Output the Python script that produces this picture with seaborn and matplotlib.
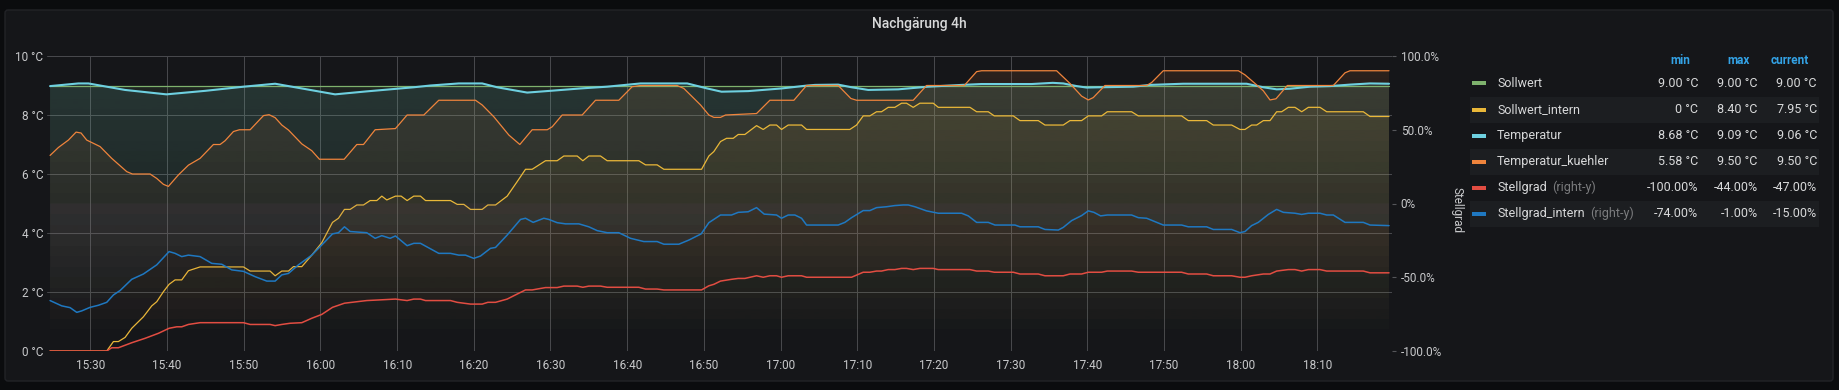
import numpy as np
import pandas as pd
import matplotlib
matplotlib.use("Agg")
import matplotlib.pyplot as plt
import matplotlib.dates as mdates
from matplotlib.colors import to_rgb
from matplotlib.patches import FancyBboxPatch, Rectangle
from matplotlib.transforms import IdentityTransform
import seaborn as sns

# (minutes after 15:00, value)
sollwert = [(24.74, 9.0), (199.35, 9.0)]

sollwert_intern = [
    (24.74, 0.0), (32.13, 0.0), (33.00, 0.32), (33.65, 0.32), (34.52, 0.46), (35.39, 0.77),
    (36.91, 1.16), (38.00, 1.53), (38.65, 1.67), (39.52, 2.01), (40.26, 2.26), (41.04, 2.41),
    (41.91, 2.41), (42.78, 2.72), (44.30, 2.85), (49.96, 2.85), (50.83, 2.71), (53.43, 2.71),
    (54.09, 2.55), (54.96, 2.71), (55.83, 2.71), (56.48, 2.86), (57.57, 2.86), (58.87, 3.25),
    (60.17, 3.67), (61.57, 4.36), (62.35, 4.50), (63.13, 4.80), (63.87, 4.80), (64.74, 4.95),
    (65.61, 4.95), (66.48, 5.10), (67.35, 5.10), (68.00, 5.25), (68.65, 5.12), (69.78, 5.25),
    (70.52, 5.25), (71.30, 5.10), (72.17, 5.25), (73.04, 5.25), (73.70, 5.10), (76.96, 5.10),
    (77.83, 4.97), (78.70, 4.97), (79.57, 4.80), (81.09, 4.80), (81.83, 4.95), (82.83, 4.95),
    (84.35, 5.25), (85.65, 5.74), (86.74, 6.16), (87.61, 6.16), (89.35, 6.45), (90.87, 6.45),
    (91.74, 6.61), (93.48, 6.61), (94.22, 6.45), (95.00, 6.61), (96.52, 6.61), (97.39, 6.45),
    (101.52, 6.45), (102.39, 6.31), (103.91, 6.31), (104.78, 6.16), (109.70, 6.16), (110.65, 6.61),
    (111.30, 6.76), (112.17, 7.10), (112.96, 7.21), (113.83, 7.21), (114.48, 7.34), (115.35, 7.34),
    (116.87, 7.64), (117.74, 7.51), (118.61, 7.66), (119.48, 7.66), (120.13, 7.51), (121.00, 7.66),
    (122.74, 7.66), (123.39, 7.51), (129.04, 7.51), (129.91, 7.66), (130.78, 7.97), (131.65, 7.97),
    (132.52, 8.11), (133.17, 8.11), (134.04, 8.26), (134.91, 8.26), (135.78, 8.40), (136.43, 8.40),
    (137.30, 8.26), (138.17, 8.40), (139.91, 8.40), (140.57, 8.26), (144.70, 8.26), (145.57, 8.11),
    (147.09, 8.11), (147.87, 7.97), (150.35, 7.97), (151.22, 7.81), (153.61, 7.81), (154.48, 7.66),
    (156.87, 7.66), (157.74, 7.81), (159.26, 7.81), (160.13, 7.97), (161.87, 7.97), (162.61, 8.11),
    (165.78, 8.11), (166.65, 7.97), (172.30, 7.97), (173.17, 7.81), (175.57, 7.81), (176.43, 7.66),
    (178.83, 7.66), (179.91, 7.51), (180.57, 7.51), (181.43, 7.66), (182.09, 7.66), (182.96, 7.81),
    (183.83, 7.81), (184.70, 8.11), (185.35, 8.11), (186.22, 8.26), (187.09, 8.26), (187.96, 8.11),
    (188.83, 8.26), (190.35, 8.26), (191.22, 8.11), (196.00, 8.11), (196.87, 7.95), (199.35, 7.95),
]

temperatur = [
    (24.74, 8.98), (28.43, 9.07), (29.74, 9.07), (34.50, 8.85), (39.91, 8.70), (45.00, 8.82),
    (50.00, 8.96), (54.09, 9.06), (58.00, 8.88), (61.91, 8.70), (66.00, 8.80), (72.17, 8.94),
    (74.35, 9.00), (78.04, 9.07), (81.09, 9.07), (83.04, 8.94), (86.96, 8.76), (90.00, 8.82),
    (93.91, 8.90), (97.39, 8.96), (101.74, 9.07), (107.83, 9.07), (110.43, 8.90), (112.30, 8.79),
    (115.78, 8.81), (120.13, 8.90), (123.17, 8.99), (124.48, 9.02), (127.52, 9.03), (129.26, 8.94),
    (131.43, 8.85), (135.35, 8.87), (137.52, 8.92), (139.26, 8.96), (143.61, 9.02), (146.22, 9.05),
    (152.74, 9.05), (155.50, 9.09), (156.87, 9.07), (158.61, 8.98), (159.91, 8.93), (161.65, 8.94),
    (166.00, 8.96), (168.17, 9.02), (172.52, 9.06), (180.78, 9.06), (182.96, 8.94), (184.70, 8.87),
    (186.43, 8.89), (189.04, 8.96), (191.65, 8.98), (194.26, 9.03), (196.87, 9.07), (199.35, 9.06),
]

temperatur_kuehler = [
    (24.74, 6.63), (25.83, 6.90), (27.13, 7.15), (28.13, 7.42), (28.78, 7.39), (29.52, 7.15),
    (31.26, 6.93), (32.78, 6.53), (34.74, 6.08), (35.48, 6.00), (37.78, 6.00), (38.65, 5.85),
    (39.52, 5.65), (40.17, 5.58), (41.48, 5.97), (42.78, 6.30), (44.30, 6.53), (46.04, 7.00),
    (46.91, 7.00), (47.57, 7.13), (48.65, 7.44), (49.43, 7.50), (50.83, 7.50), (52.57, 7.98),
    (53.30, 8.01), (54.09, 7.91), (54.96, 7.66), (55.83, 7.49), (57.57, 7.02), (58.87, 6.79),
    (59.87, 6.50), (63.09, 6.50), (64.74, 7.00), (65.61, 7.00), (67.13, 7.50), (69.78, 7.54),
    (71.30, 8.00), (73.48, 8.00), (75.43, 8.50), (80.22, 8.50), (81.09, 8.34), (82.61, 7.94),
    (84.57, 7.32), (86.00, 7.00), (87.61, 7.50), (89.57, 7.50), (90.22, 7.60), (91.52, 8.00),
    (94.13, 8.00), (95.87, 8.50), (98.91, 8.50), (100.65, 8.96), (101.74, 9.00), (106.52, 9.00),
    (107.39, 8.90), (108.48, 8.62), (109.57, 8.34), (110.65, 8.00), (111.30, 7.92), (112.17, 7.92),
    (112.83, 8.00), (116.87, 8.05), (118.61, 8.50), (121.74, 8.50), (123.39, 9.00), (127.52, 9.00),
    (129.17, 8.56), (129.91, 8.50), (137.30, 8.50), (139.04, 9.00), (143.96, 9.00), (145.57, 9.47),
    (146.22, 9.50), (156.00, 9.50), (157.74, 9.07), (159.26, 8.64), (160.13, 8.51), (160.78, 8.59),
    (162.30, 9.00), (167.74, 9.00), (168.39, 9.10), (169.91, 9.50), (179.70, 9.50), (180.57, 9.36),
    (181.87, 9.07), (182.96, 8.82), (183.83, 8.51), (184.61, 8.55), (186.09, 9.00), (192.09, 9.00),
    (193.61, 9.43), (194.26, 9.50), (199.35, 9.50),
]

# right axis, percent
stellgrad = [
    (24.74, -100.0), (32.13, -100.0), (32.78, -97.8), (33.65, -97.8), (35.39, -94.4), (37.13, -91.4),
    (38.87, -88.0), (40.26, -84.6), (41.26, -83.6), (41.91, -83.6), (42.78, -82.0), (44.30, -80.8),
    (49.96, -80.8), (50.83, -82.0), (53.43, -82.0), (54.09, -82.8), (54.96, -82.0), (56.04, -81.2),
    (57.57, -80.8), (58.87, -77.8), (60.17, -75.2), (61.57, -70.4), (63.13, -67.6), (64.74, -66.6),
    (66.04, -65.8), (67.57, -65.4), (69.78, -64.8), (71.30, -65.8), (72.17, -64.8), (73.04, -64.8),
    (73.70, -65.8), (76.96, -65.8), (77.83, -67.0), (79.57, -68.2), (81.09, -68.2), (81.83, -67.0),
    (82.83, -67.0), (84.35, -64.8), (85.65, -61.4), (86.74, -58.6), (87.61, -58.6), (89.35, -57.0),
    (90.87, -57.0), (91.74, -56.0), (93.48, -56.0), (94.22, -56.8), (95.00, -56.0), (96.52, -56.0),
    (97.39, -56.8), (101.52, -56.8), (102.39, -58.0), (103.91, -58.0), (104.78, -58.6), (109.70, -58.6),
    (110.65, -55.8), (111.30, -54.8), (112.17, -52.6), (113.61, -51.4), (114.48, -50.8), (115.35, -50.8),
    (116.87, -49.0), (117.74, -50.0), (118.61, -49.0), (119.48, -49.0), (120.13, -50.0), (121.00, -49.0),
    (122.74, -49.0), (123.39, -50.0), (129.26, -50.0), (130.78, -46.6), (131.65, -46.6), (132.52, -45.8),
    (133.17, -45.8), (134.04, -44.8), (134.91, -44.8), (135.78, -44.0), (136.43, -44.0), (137.30, -44.8),
    (138.17, -44.0), (139.91, -44.0), (140.57, -44.8), (144.70, -44.8), (145.57, -45.8), (147.09, -45.8),
    (147.87, -46.6), (150.35, -46.6), (151.22, -47.8), (153.61, -47.8), (154.48, -49.0), (156.87, -49.0),
    (157.74, -47.8), (159.26, -47.8), (160.13, -46.6), (161.87, -46.6), (162.61, -45.8), (165.78, -45.8),
    (166.65, -46.6), (172.30, -46.6), (173.17, -47.8), (175.57, -47.8), (176.43, -49.0), (178.83, -49.0),
    (179.91, -50.0), (180.57, -50.0), (181.43, -49.0), (182.96, -47.8), (183.83, -47.8), (184.70, -45.8),
    (186.22, -44.8), (187.09, -44.8), (187.96, -45.8), (188.83, -44.8), (190.35, -44.8), (191.22, -45.8),
    (196.00, -45.8), (196.87, -47.0), (199.35, -47.0),
]

stellgrad_intern = [
    (24.74, -65.8), (26.26, -69.4), (27.35, -70.6), (28.22, -73.8), (28.87, -72.8), (29.96, -70.4),
    (31.04, -69.0), (32.13, -67.0), (33.00, -62.0), (33.87, -59.0), (35.39, -51.4), (36.91, -47.8),
    (38.65, -41.6), (40.26, -32.6), (41.04, -33.8), (41.91, -36.0), (42.78, -35.0), (44.30, -36.0),
    (45.83, -40.6), (47.13, -41.2), (48.43, -45.0), (49.96, -46.0), (51.48, -49.6), (53.00, -52.6),
    (54.09, -52.6), (54.96, -48.4), (55.83, -47.4), (57.13, -41.6), (58.87, -35.0), (60.61, -25.8),
    (61.57, -20.6), (62.35, -19.8), (63.13, -15.8), (63.87, -19.0), (66.04, -19.8), (67.13, -23.6),
    (68.00, -21.8), (69.09, -23.6), (69.78, -22.0), (71.30, -28.6), (72.17, -27.0), (73.04, -27.0),
    (75.43, -33.8), (76.96, -33.8), (78.04, -35.0), (78.91, -35.0), (80.00, -37.2), (80.87, -35.6),
    (82.17, -30.4), (82.83, -29.8), (84.35, -21.4), (86.09, -10.8), (86.74, -10.0), (87.74, -12.8),
    (89.13, -10.0), (89.78, -10.8), (90.87, -13.0), (91.96, -13.8), (93.70, -13.8), (95.00, -15.8),
    (96.09, -18.4), (97.39, -19.8), (98.91, -19.8), (100.43, -23.6), (102.17, -25.8), (103.91, -25.8),
    (104.78, -27.6), (106.74, -27.6), (108.04, -24.8), (109.65, -20.6), (110.65, -13.0), (112.17, -7.8),
    (113.61, -7.8), (114.48, -6.0), (115.78, -5.6), (116.87, -2.8), (117.87, -7.2), (119.48, -7.8),
    (120.13, -10.0), (121.00, -7.8), (121.87, -7.8), (122.74, -10.0), (123.39, -14.6), (127.52, -14.6),
    (128.39, -12.8), (129.26, -9.6), (130.78, -4.8), (131.65, -4.8), (132.52, -2.8), (133.83, -2.2),
    (134.91, -1.4), (136.00, -1.0), (136.65, -1.0), (137.52, -2.2), (139.04, -5.0), (140.57, -6.6),
    (143.61, -6.6), (144.48, -8.4), (145.57, -12.8), (147.09, -12.8), (147.96, -14.6), (150.57, -14.6),
    (151.22, -15.8), (153.61, -15.8), (154.48, -17.6), (156.22, -18.0), (156.87, -16.2), (157.96, -11.6),
    (159.26, -8.2), (160.13, -5.0), (160.87, -6.0), (161.74, -8.4), (162.61, -7.8), (165.78, -7.8),
    (166.65, -9.6), (167.74, -10.0), (169.91, -14.6), (172.30, -14.6), (173.17, -15.8), (175.57, -15.8),
    (176.43, -17.6), (178.83, -17.6), (179.91, -19.8), (180.57, -19.0), (181.43, -15.0), (182.30, -12.8),
    (183.61, -7.4), (184.70, -4.0), (185.57, -6.0), (187.09, -6.6), (187.96, -7.4), (188.83, -6.6),
    (190.35, -6.6), (191.22, -7.8), (192.09, -7.8), (193.61, -12.8), (196.00, -12.8), (196.87, -14.6),
    (199.35, -15.0),
]

names = ["Sollwert", "Sollwert_intern", "Temperatur", "Temperatur_kuehler", "Stellgrad", "Stellgrad_intern"]
series = [sollwert, sollwert_intern, temperatur, temperatur_kuehler, stellgrad, stellgrad_intern]
right_y = [False, False, False, False, True, True]
colors = ["#7eb26d", "#eab839", "#6ed0e0", "#ef843c", "#e24d42", "#1f78c1"]
widths = [0.9, 0.9, 1.5, 0.9, 1.1, 1.1]

legend_min = ["9.00 °C", "0 °C", "8.68 °C", "5.58 °C", "-100.00%", "-74.00%"]
legend_max = ["9.00 °C", "8.40 °C", "9.09 °C", "9.50 °C", "-44.00%", "-1.00%"]
legend_current = ["9.00 °C", "7.95 °C", "9.06 °C", "9.50 °C", "-47.00%", "-15.00%"]

left_ticks = [0, 2, 4, 6, 8, 10]
right_ticks = [-100, -50, 0, 50, 100]
title = "Nachgärung 4h"

W, H = 1840, 390
BG = "#0b0c0e"
PANEL = "#151619"
TXT = "#c8c9cb"
GRID = "#47484c"

sns.set_style("dark")
plt.rcParams["font.family"] = ["Roboto", "DejaVu Sans"]
plt.rcParams["axes.unicode_minus"] = False

base = pd.Timestamp("2020-05-01 15:00")


def to_frame(pts):
    df = pd.DataFrame(pts, columns=["minute", "value"])
    df["time"] = base + pd.to_timedelta(df["minute"], unit="m")
    return df


def fx(x):
    return x / W


def fy(y):
    return 1 - y / H


def gradient_fill(ax, df, floor, color, top_alpha=0.11):
    # grafana style fill: fades out towards the bottom of the plot
    poly = ax.fill_between(df["time"], df["value"], floor, facecolor="none", edgecolor="none")
    img = np.zeros((256, 1, 4))
    img[..., :3] = to_rgb(color)
    img[..., 3] = np.linspace(top_alpha, 0.0, 256)[:, None]
    im = ax.imshow(img, aspect="auto", extent=[0, 1, 0, 1], transform=ax.transAxes,
                   origin="upper", zorder=1, interpolation="bilinear")
    im.set_clip_path(poly.get_paths()[0], transform=poly.get_transform())


fig = plt.figure(figsize=(W / 100, H / 100), dpi=100, facecolor=BG)
fig.add_artist(FancyBboxPatch((5, 9), 1828, 371, boxstyle="round,pad=0,rounding_size=3",
                              transform=IdentityTransform(), facecolor=PANEL,
                              edgecolor="#222327", lw=1, zorder=-10))

ax = fig.add_axes([fx(46.7), fy(351), fx(1391.7) - fx(46.7), fy(56) - fy(351)])
ax.patch.set_visible(False)
ax2 = ax.twinx()
ax2.patch.set_visible(False)

for pts, is_right, c in zip(series, right_y, colors):
    a = ax2 if is_right else ax
    gradient_fill(a, to_frame(pts), 0, c)
for pts, is_right, c, lw in zip(series, right_y, colors, widths):
    a = ax2 if is_right else ax
    sns.lineplot(data=to_frame(pts), x="time", y="value", ax=a, color=c, lw=lw,
                 estimator=None, sort=False, zorder=3)

ax.set_xlim(base + pd.to_timedelta(24.3, unit="m"), base + pd.to_timedelta(199.7, unit="m"))
ax.set_ylim(0, 10)
ax2.set_ylim(-100, 100)
for a in (ax, ax2):
    a.set_xlabel("")
    a.set_ylabel("")
    for s in a.spines.values():
        s.set_visible(False)

ax.xaxis.set_major_locator(mdates.MinuteLocator(byminute=range(0, 60, 10)))
ax.xaxis.set_major_formatter(mdates.DateFormatter("%H:%M"))
ax.set_yticks(left_ticks)
ax.set_yticklabels([f"{v} °C" for v in left_ticks])
ax2.set_yticks(right_ticks)
ax2.set_yticklabels(["0%" if v == 0 else f"{v:.1f}%" for v in right_ticks])

ax.grid(True, color=GRID, lw=0.75)
ax2.grid(False)
ax.set_axisbelow(True)
ax.tick_params(axis="both", length=0, labelcolor=TXT, labelsize=8.5)
ax.tick_params(axis="x", pad=6)
ax.tick_params(axis="y", pad=2.5)
ax2.tick_params(axis="y", length=3, width=0.8, color="#55565a", labelcolor=TXT,
                labelsize=8.5, pad=3.5)

fig.text(fx(919), fy(24), title, ha="center", va="center", fontsize=10,
         fontweight="medium", color="#d8d9da")
fig.text(fx(1457), fy(210), "Stellgrad", rotation=270, ha="center", va="center",
         fontsize=8.5, color=TXT)

# legend table
row_y = [83.3, 109.7, 135.7, 161.7, 187.7, 213.7]
for x, lab in zip([1690.7, 1749.3, 1809], ["min", "max", "current"]):
    fig.text(fx(x), fy(61), lab, ha="right", va="center", fontsize=8.5,
             fontweight="bold", color="#33a2e5")
for i, (y, name, c) in enumerate(zip(row_y, names, colors)):
    if i % 2 == 1:
        fig.add_artist(Rectangle((1470, H - y - 13), 349, 26, transform=IdentityTransform(),
                                 facecolor="#1c1e21", edgecolor="none", zorder=-5))
    fig.add_artist(Rectangle((1472, H - y - 2), 14, 4, transform=IdentityTransform(),
                             facecolor=c, edgecolor="none"))
    t = fig.text(fx(1497), fy(y), name, ha="left", va="center", fontsize=9, color="#d8d9da")
    if right_y[i]:
        ax.annotate("(right-y)", xy=(1, 0.5), xycoords=t, xytext=(4, 0),
                    textcoords="offset points", ha="left", va="center", fontsize=9,
                    color="#7b7c7e", annotation_clip=False)
    for x, vals in zip([1698.3, 1757.7, 1817], [legend_min, legend_max, legend_current]):
        fig.text(fx(x), fy(y), vals[i], ha="right", va="center", fontsize=9, color="#d8d9da")

fig.savefig("out.png", dpi=100, facecolor=BG)
